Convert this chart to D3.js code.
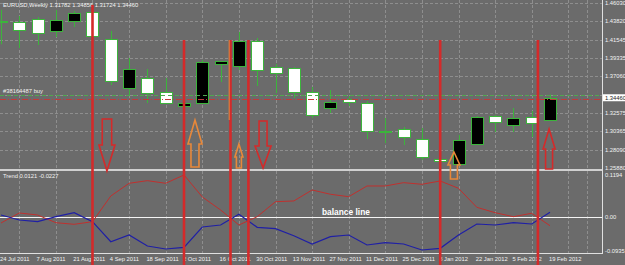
<!DOCTYPE html>
<html>
<head>
<meta charset="utf-8">
<script src="https://cdn.jsdelivr.net/npm/d3@7"></script>
<style>
  body { margin: 0; background: #6b6b6b; }
  svg { display: block; font-family: "Liberation Sans", Arial, sans-serif; }
</style>
</head>
<body>
<div id="chart"></div>
<script>
// weekly EURUSD bars, 24 Jul 2011 .. 19 Feb 2012
var opens  = [1.4383, 1.43707, 1.44073, 1.42608, 1.43829, 1.44928, 1.41631, 1.35648, 1.36869, 1.35160, 1.33450,
              1.33817, 1.38578, 1.38334, 1.41387, 1.38212, 1.38090, 1.35160, 1.33206, 1.34305, 1.33817,
              1.30400, 1.30642, 1.29421, 1.26979, 1.26368, 1.28810, 1.32229, 1.31130, 1.32107, 1.31782];
var highs  = [1.4520, 1.44439, 1.44317, 1.45172, 1.45050, 1.45416, 1.42608, 1.39311, 1.37968, 1.36869, 1.34183,
              1.39067, 1.38945, 1.42486, 1.41753, 1.38578, 1.38212, 1.35770, 1.35404, 1.34671, 1.34061,
              1.31985, 1.30886, 1.30764, 1.28933, 1.29909, 1.32229, 1.32351, 1.33206, 1.32840, 1.34856];
var lows   = [1.4100, 1.40532, 1.40898, 1.41875, 1.43096, 1.41875, 1.36014, 1.34793, 1.33817, 1.33694, 1.33328,
              1.33694, 1.36381, 1.37846, 1.35892, 1.35038, 1.34427, 1.31985, 1.32596, 1.33450, 1.29421,
              1.28933, 1.28688, 1.26857, 1.26613, 1.26124, 1.28688, 1.30276, 1.30276, 1.29665, 1.31724];
var closes = [1.4380, 1.42730, 1.42364, 1.43951, 1.44806, 1.41997, 1.36503, 1.37968, 1.35038, 1.33817, 1.33817,
              1.38823, 1.38945, 1.41387, 1.37846, 1.37480, 1.35160, 1.32351, 1.33939, 1.33939, 1.30398,
              1.30360, 1.29665, 1.27223, 1.26735, 1.29299, 1.32107, 1.31497, 1.31985, 1.31375, 1.34460];

// Trend indicator buffers
var trendBlue = [0.0052, -0.0078, -0.0122, 0.0008, 0.0112, -0.0122, -0.0642, -0.0468, -0.0753, -0.0831, -0.0787,
                 -0.0260, -0.0208, 0.0070, -0.0268, -0.0304, -0.0486, -0.0701, -0.0512, -0.0468, -0.0727,
                 -0.0668, -0.0701, -0.0857, -0.0813, -0.0468, -0.0182, -0.0208, -0.0148, -0.0182, 0.0121];
var trendRed  = [-0.0156, 0.0104, 0.0052, -0.0148, -0.0190, -0.0122, 0.0545, 0.0875, 0.0943, 0.0875, 0.1091,
                 0.0519, 0.0182, -0.0208, 0.0008, 0.0397, 0.0416, 0.0701, 0.0590, 0.0527, 0.0805,
                 0.0805, 0.0891, 0.0849, 0.0935, 0.0745, 0.0252, 0.0112, 0.0008, 0.0096, -0.0227];

var dateLabels = ["24 Jul 2011", "7 Aug 2011", "21 Aug 2011", "4 Sep 2011", "18 Sep 2011", "2 Oct 2011",
                  "16 Oct 2011", "30 Oct 2011", "13 Nov 2011", "27 Nov 2011", "11 Dec 2011", "25 Dec 2011",
                  "8 Jan 2012", "22 Jan 2012", "5 Feb 2012", "19 Feb 2012"];
var priceTicks = [1.46030, 1.43820, 1.41545, 1.39335, 1.37060, 1.34850, 1.32575, 1.30365, 1.28090, 1.25880];
var trendTicks = [0.1194, 0.00, -0.0935];

// objects on the chart (bar index / price)
var vlineBar = [5, 10, 12.54, 13.52, 24, 29.34];
var vlineTop = [1.4578, 1.4151, 1.4151, 1.4151, 1.4151, 1.4151];
var arrowBar  = [5.79, 10.6, 13.0, 14.32, 24.75, 29.95];
var arrowTip  = [1.2551, 1.3174, 1.2881, 1.2588, 1.2783, 1.3064];
var arrowBase = [1.2869, 1.2881, 1.2722, 1.2857, 1.2625, 1.2820];
var arrowTail = [1.3186, 1.2600, 1.2588, 1.3162, 1.2454, 1.2576];
var arrowKind = ["red", "orange", "orange", "red", "orange", "red"];
var buyLevel = 1.3479, stopLevel = 1.3431, lastPrice = 1.34460;

// arrow shapes (px)
var arrowHead  = [8, 7, 4, 8, 6, 6];
var arrowShaft = [4.7, 4, 2.5, 4, 3.5, 3.5];
var arrowColors = { red: "#d42a2a", orange: "#e8883a" };

var W = 625, H = 265, plotR = 602;
var mainBot = 169, indTop = 171, indBot = 253;
var bg = "#6b6b6b", txt = "#f2f2f2", green = "#3cb43c";

var x = d3.scaleLinear().domain([0, 30]).range([1, 550]);
var bodyW = 13;
var yPrice = d3.scaleLinear().domain([1.2588, 1.4603]).range([168, 3]);
var yTrend = d3.scaleLinear().domain([-0.0935, 0.1194]).range([indBot, indTop]);

var svg = d3.select("#chart").append("svg")
    .attr("width", W)
    .attr("height", H);

svg.append("rect").attr("width", W).attr("height", H).attr("fill", bg);

var defs = svg.append("defs");
defs.append("clipPath").attr("id", "clipMain")
    .append("rect").attr("x", 0).attr("y", 0).attr("width", plotR).attr("height", mainBot);
defs.append("clipPath").attr("id", "clipInd")
    .append("rect").attr("x", 0).attr("y", indTop).attr("width", plotR).attr("height", indBot - indTop);

var crisp = function (v) { return Math.round(v) + 0.5; };

// grid
var gridBars = d3.range(1, 32, 2).concat([32]);
var grid = svg.append("g")
    .attr("stroke", "#8e8e8e")
    .attr("stroke-width", 1)
    .attr("stroke-dasharray", "3,2");
grid.selectAll("line.v1")
    .data(gridBars)
    .enter().append("line")
    .attr("x1", d => crisp(x(d))).attr("x2", d => crisp(x(d)))
    .attr("y1", 0).attr("y2", mainBot);
grid.selectAll("line.v2")
    .data(gridBars)
    .enter().append("line")
    .attr("x1", d => crisp(x(d))).attr("x2", d => crisp(x(d)))
    .attr("y1", indTop).attr("y2", indBot);
grid.selectAll("line.h")
    .data(priceTicks.slice(0, -1))
    .enter().append("line")
    .attr("x1", 0).attr("x2", plotR)
    .attr("y1", d => crisp(yPrice(d))).attr("y2", d => crisp(yPrice(d)));

// candles
var bars = d3.range(opens.length);
var candles = svg.append("g").attr("clip-path", "url(#clipMain)");
candles.selectAll("line")
    .data(bars)
    .enter().append("line")
    .attr("x1", i => crisp(x(i))).attr("x2", i => crisp(x(i)))
    .attr("y1", i => yPrice(highs[i])).attr("y2", i => yPrice(lows[i]))
    .attr("stroke", green)
    .attr("stroke-width", 1);
candles.selectAll("rect")
    .data(bars)
    .enter().append("rect")
    .attr("x", i => Math.round(x(i)) - 6 + 0.5)
    .attr("y", i => Math.round(yPrice(Math.max(opens[i], closes[i]))) + 0.5)
    .attr("width", bodyW - 1)
    .attr("height", i => Math.max(1, Math.round(Math.abs(yPrice(opens[i]) - yPrice(closes[i])))))
    .attr("fill", i => closes[i] >= opens[i] ? "#000000" : "#ffffff")
    .attr("stroke", green)
    .attr("stroke-width", 1);

// order levels
svg.append("line")
    .attr("x1", 0).attr("x2", plotR)
    .attr("y1", crisp(yPrice(buyLevel))).attr("y2", crisp(yPrice(buyLevel)))
    .attr("stroke", "#4fa84f").attr("stroke-dasharray", "4,3");
svg.append("line")
    .attr("x1", 0).attr("x2", plotR)
    .attr("y1", crisp(yPrice(stopLevel))).attr("y2", crisp(yPrice(stopLevel)))
    .attr("stroke", "#c23a3a").attr("stroke-dasharray", "6,2,1,2");
svg.append("text")
    .attr("x", 3).attr("y", yPrice(buyLevel) - 2)
    .attr("font-size", "5.8px").attr("fill", txt)
    .text("#38164487 buy");

// indicator lines
var line = d3.line()
    .x((d, i) => x(i))
    .y(d => yTrend(d));
var ind = svg.append("g").attr("clip-path", "url(#clipInd)");
ind.append("line")
    .attr("x1", 0).attr("x2", plotR)
    .attr("y1", crisp(yTrend(0))).attr("y2", crisp(yTrend(0)))
    .attr("stroke", "#f4f4f4").attr("stroke-width", 1);
ind.append("path")
    .attr("d", line(trendRed))
    .attr("fill", "none").attr("stroke", "#c0302e").attr("stroke-width", 1);
ind.append("path")
    .attr("d", line(trendBlue))
    .attr("fill", "none").attr("stroke", "#1f1fa6").attr("stroke-width", 1.2);

svg.append("text")
    .attr("x", 322).attr("y", yTrend(0) - 1.5)
    .attr("font-size", "8.4px").attr("font-weight", "bold").attr("fill", "#ffffff")
    .text("balance line");

// frames
svg.append("line")
    .attr("x1", 0).attr("x2", plotR).attr("y1", 170).attr("y2", 170)
    .attr("stroke", "#d0d0d0").attr("stroke-width", 2);
svg.append("line")
    .attr("x1", 0).attr("x2", plotR + 1).attr("y1", indBot + 0.5).attr("y2", indBot + 0.5)
    .attr("stroke", "#e0e0e0");
svg.append("line")
    .attr("x1", plotR + 0.5).attr("x2", plotR + 0.5).attr("y1", 0).attr("y2", indBot + 1)
    .attr("stroke", "#e0e0e0");

// header texts
svg.append("text")
    .attr("x", 3).attr("y", 7)
    .attr("font-size", "5.8px").attr("fill", txt)
    .text("EURUSD,Weekly  1.31782 1.34856 1.31724 1.34460");
svg.append("text")
    .attr("x", 3).attr("y", 178)
    .attr("font-size", "5.8px").attr("fill", txt)
    .text("Trend " + trendBlue[trendBlue.length - 1].toFixed(4) + " " + trendRed[trendRed.length - 1].toFixed(4));

// price axis (the label under the current price box is hidden, as in MT4)
svg.append("g").selectAll("text")
    .data(priceTicks.filter(d => Math.abs(yPrice(d) - yPrice(lastPrice)) > 5))
    .enter().append("text")
    .attr("x", 605)
    .attr("y", d => yPrice(d) + 2)
    .attr("font-size", "5.8px").attr("fill", txt)
    .text(d => d.toFixed(5));
svg.append("g").selectAll("text")
    .data(trendTicks)
    .enter().append("text")
    .attr("x", 605)
    .attr("y", (d, i) => i === 0 ? yTrend(d) + 6 : (i === 2 ? yTrend(d) - 0.5 : yTrend(d) + 2))
    .attr("font-size", "5.8px").attr("fill", txt)
    .text(d => d === 0 ? "0.00" : d.toFixed(4));

// current price box
svg.append("rect")
    .attr("x", 603).attr("y", yPrice(lastPrice) - 3.5)
    .attr("width", 22).attr("height", 7)
    .attr("fill", "#ffffff");
svg.append("text")
    .attr("x", 605).attr("y", yPrice(lastPrice) + 2)
    .attr("font-size", "5.8px").attr("fill", "#222222")
    .text(lastPrice.toFixed(5));

// time axis
svg.append("g").selectAll("text")
    .data(dateLabels)
    .enter().append("text")
    .attr("x", (d, k) => Math.max(0, x(k * 2) - 1))
    .attr("y", 261)
    .attr("font-size", "5.8px").attr("fill", txt)
    .text(d => d);

// vertical object lines
svg.append("g").selectAll("line")
    .data(vlineBar)
    .enter().append("line")
    .attr("x1", d => x(d)).attr("x2", d => x(d))
    .attr("y1", (d, i) => yPrice(vlineTop[i]))
    .attr("y2", H)
    .attr("stroke", "#d42a2a")
    .attr("stroke-width", 2.6);
svg.append("line")
    .attr("x1", x(vlineBar[2]) - 1.3).attr("x2", x(vlineBar[2]) - 1.3)
    .attr("y1", yPrice(vlineTop[2])).attr("y2", 120)
    .attr("stroke", "#e8883a").attr("stroke-width", 1);

// arrows
var arrowPath = d3.line();
svg.append("g").selectAll("path")
    .data(arrowBar)
    .enter().append("path")
    .attr("d", function (d, i) {
        var cx = x(d), tip = yPrice(arrowTip[i]), base = yPrice(arrowBase[i]), tail = yPrice(arrowTail[i]);
        var hw = arrowHead[i], sw = arrowShaft[i];
        return arrowPath([[cx, tip], [cx + hw, base], [cx + sw, base], [cx + sw, tail],
                          [cx - sw, tail], [cx - sw, base], [cx - hw, base]]) + "Z";
    })
    .attr("fill", "none")
    .attr("stroke", (d, i) => arrowColors[arrowKind[i]])
    .attr("stroke-width", 1.6)
    .attr("stroke-linejoin", "miter");
</script>
</body>
</html>
